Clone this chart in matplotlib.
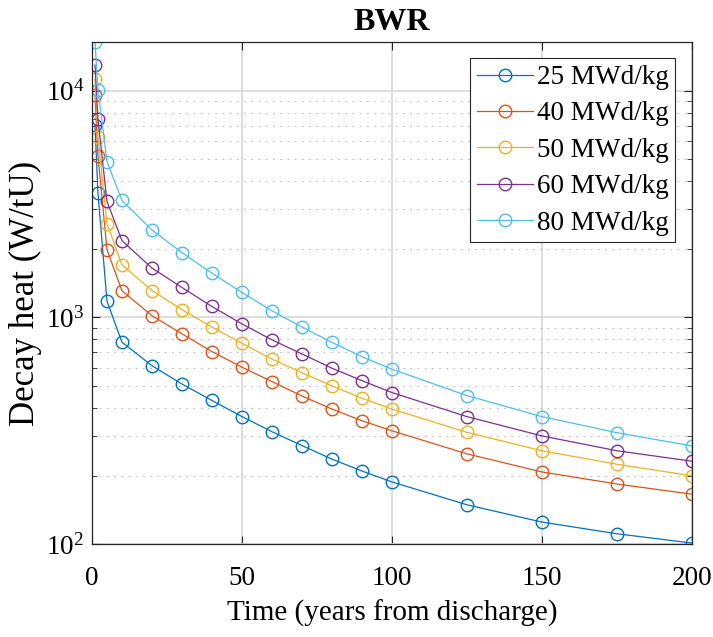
import numpy as np
from matplotlib import pyplot as plt
from matplotlib.ticker import LogLocator, NullFormatter

plt.rcParams['font.family'] = ['Liberation Serif', 'DejaVu Serif']
plt.rcParams['mathtext.fontset'] = 'custom'
plt.rcParams['mathtext.rm'] = 'Liberation Serif'
plt.rcParams['mathtext.it'] = 'Liberation Serif:italic'

# time after discharge (years)
years = [1, 2, 5, 10, 20, 30, 40, 50, 60, 70, 80, 90, 100, 125, 150, 175, 200]

# decay heat (W/tU) per burnup
heat_25 = [7050, 3530, 1180, 777, 612, 508, 430, 365, 313, 272, 237, 210, 188, 149, 125, 111, 101]
heat_40 = [9600, 5170, 1990, 1310, 1017, 846, 706, 603, 521, 450, 394, 350, 316, 250, 208, 184, 166]
heat_50 = [11260, 6280, 2590, 1705, 1313, 1082, 906, 769, 654, 570, 499, 440, 394, 311, 258, 225, 200]
heat_60 = [12980, 7500, 3250, 2180, 1650, 1355, 1117, 936, 796, 690, 597, 526, 466, 365, 300, 258, 232]
heat_80 = [16400, 10100, 4870, 3280, 2430, 1930, 1567, 1288, 1069, 907, 776, 671, 591, 452, 365, 310, 271]

labels = ['25 MWd/kg', '40 MWd/kg', '50 MWd/kg', '60 MWd/kg', '80 MWd/kg']
colors = ['#0072BD', '#D95319', '#EDB120', '#7E2F8E', '#4DBEEE']
series = [heat_25, heat_40, heat_50, heat_60, heat_80]

fig = plt.figure(figsize=(7.13, 6.37), dpi=100)
ax = fig.add_axes([0.129, 0.146, 0.841, 0.788])

for h, lab, c in zip(series, labels, colors):
    ax.plot(years, h, '-o', color=c, label=lab, lw=0.9,
            markersize=9, markerfacecolor='none', markeredgewidth=1.0)

ax.set_yscale('log')
ax.set_xlim(0, 200)
ax.set_ylim(100, max(max(s) for s in series))
ax.set_xticks([0, 50, 100, 150, 200])
ax.yaxis.set_major_locator(LogLocator(base=10))
ax.yaxis.set_minor_locator(LogLocator(base=10, subs=np.arange(2, 10)))
ax.yaxis.set_minor_formatter(NullFormatter())

ax.grid(True, which='major', color='#dadada', lw=1.3)
ax.grid(True, which='minor', axis='y', color='#bdbdbd', lw=0.8, linestyle=(0, (1.5, 5)))
ax.set_axisbelow(True)

ax.tick_params(which='both', direction='in', top=True, right=True,
               labelsize=19.5, color='#262626')
ax.tick_params(axis='x', which='major', pad=16)
ax.tick_params(axis='y', which='major', pad=5.5)
ax.tick_params(which='major', length=6, width=0.8)
ax.tick_params(which='minor', length=3.5, width=0.6)
for sp in ax.spines.values():
    sp.set_color('#262626')
    sp.set_linewidth(0.9)

ax.set_xlabel('Time (years from discharge)', fontsize=21, labelpad=6)
ax.set_ylabel('Decay heat (W/tU)', fontsize=25, labelpad=3)
ax.set_title('BWR', fontsize=23, fontweight='bold', pad=9)

leg = ax.legend(loc='upper right', fontsize=19.5, fancybox=False, framealpha=1,
                edgecolor='#262626', borderpad=0.25, labelspacing=0.42,
                handlelength=2.05, handletextpad=0.15, borderaxespad=0.6)
leg.get_frame().set_linewidth(0.8)

fig.savefig('out.png', dpi=100)
